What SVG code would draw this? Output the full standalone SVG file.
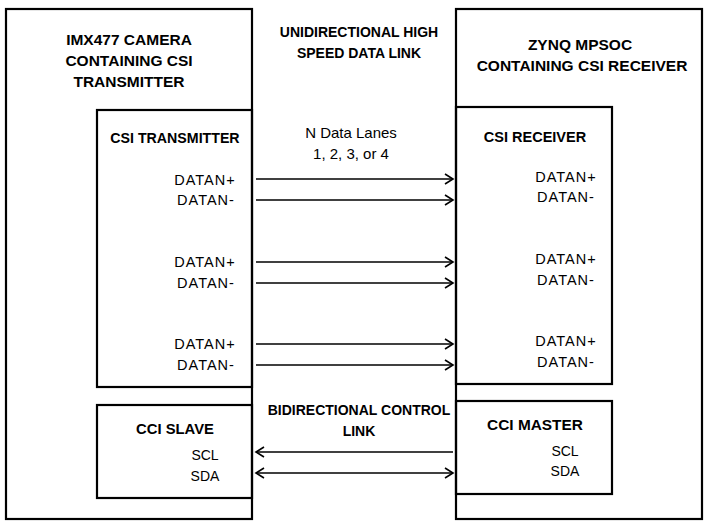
<svg xmlns="http://www.w3.org/2000/svg" width="709" height="527" viewBox="0 0 709 527">
<style>
.box{fill:none;stroke:#000;stroke-width:2.2}
.t{font-family:"Liberation Sans",Arial,sans-serif;fill:#000;text-anchor:middle}
.b{font-weight:bold;font-size:14px}
.h{font-weight:bold;font-size:15.5px}
.r{font-size:14px}
.d{font-size:14.5px;letter-spacing:1px}
.ln{stroke:#000;stroke-width:1.6;fill:none}
</style>
<defs>
<marker id="ah" markerWidth="12" markerHeight="12" refX="10" refY="6" orient="auto" markerUnits="userSpaceOnUse">
<polyline points="2,1 10,6 2,11" fill="none" stroke="#000" stroke-width="1.6"/>
</marker>
<marker id="as" markerWidth="12" markerHeight="12" refX="2" refY="6" orient="auto" markerUnits="userSpaceOnUse">
<polyline points="10,1 2,6 10,11" fill="none" stroke="#000" stroke-width="1.6"/>
</marker>
</defs>
<rect width="709" height="527" fill="#fff"/>
<g id="camera">
<rect class="box" x="6" y="9" width="246" height="510"/>
<text class="t h" x="129" y="45">IMX477 CAMERA</text>
<text class="t h" x="129" y="66">CONTAINING CSI</text>
<text class="t h" x="129" y="87">TRANSMITTER</text>
</g>
<g id="csi-transmitter">
<rect class="box" x="97" y="110" width="155" height="277"/>
<text class="t b" x="175" y="143" style="font-size:14.2px">CSI TRANSMITTER</text>
<text class="t d" x="205" y="185">DATAN+</text>
<text class="t d" x="206" y="205">DATAN-</text>
<text class="t d" x="205" y="267">DATAN+</text>
<text class="t d" x="206" y="288">DATAN-</text>
<text class="t d" x="205" y="349">DATAN+</text>
<text class="t d" x="206" y="370">DATAN-</text>
</g>
<g id="cci-slave">
<rect class="box" x="97" y="405" width="155" height="93"/>
<text class="t b" x="175" y="434" style="font-size:14.8px">CCI SLAVE</text>
<text class="t r" x="205" y="460">SCL</text>
<text class="t r" x="205" y="481">SDA</text>
</g>
<g id="zynq">
<rect class="box" x="456" y="9" width="246" height="510"/>
<text class="t h" x="580" y="50">ZYNQ MPSOC</text>
<text class="t h" x="582" y="71">CONTAINING CSI RECEIVER</text>
</g>
<g id="csi-receiver">
<rect class="box" x="456" y="107" width="156" height="277"/>
<text class="t b" x="535" y="142" style="font-size:14.5px">CSI RECEIVER</text>
<text class="t d" x="566" y="182">DATAN+</text>
<text class="t d" x="566" y="202">DATAN-</text>
<text class="t d" x="566" y="264">DATAN+</text>
<text class="t d" x="566" y="285">DATAN-</text>
<text class="t d" x="566" y="346">DATAN+</text>
<text class="t d" x="566" y="367">DATAN-</text>
</g>
<g id="cci-master">
<rect class="box" x="456" y="401" width="156" height="93"/>
<text class="t b" x="535" y="430" style="font-size:15.4px">CCI MASTER</text>
<text class="t r" x="565" y="456">SCL</text>
<text class="t r" x="565" y="476">SDA</text>
</g>
<g id="link-labels">
<text class="t b" x="359" y="37">UNIDIRECTIONAL HIGH</text>
<text class="t b" x="359" y="58">SPEED DATA LINK</text>
<text class="t r" x="351" y="138" style="font-size:15px">N Data Lanes</text>
<text class="t r" x="351" y="159" style="font-size:15px">1, 2, 3, or 4</text>
<text class="t b" x="359" y="415">BIDIRECTIONAL CONTROL</text>
<text class="t b" x="359" y="436">LINK</text>
</g>
<g id="connectors">
<line class="ln" x1="256" y1="179" x2="453" y2="179" marker-end="url(#ah)"/>
<line class="ln" x1="256" y1="200" x2="453" y2="200" marker-end="url(#ah)"/>
<line class="ln" x1="256" y1="262" x2="453" y2="262" marker-end="url(#ah)"/>
<line class="ln" x1="256" y1="283" x2="453" y2="283" marker-end="url(#ah)"/>
<line class="ln" x1="256" y1="344" x2="453" y2="344" marker-end="url(#ah)"/>
<line class="ln" x1="256" y1="365" x2="453" y2="365" marker-end="url(#ah)"/>
<line class="ln" x1="256" y1="452" x2="453" y2="452" marker-start="url(#as)"/>
<line class="ln" x1="256" y1="473" x2="453" y2="473" marker-start="url(#as)" marker-end="url(#ah)"/>
</g>
</svg>
